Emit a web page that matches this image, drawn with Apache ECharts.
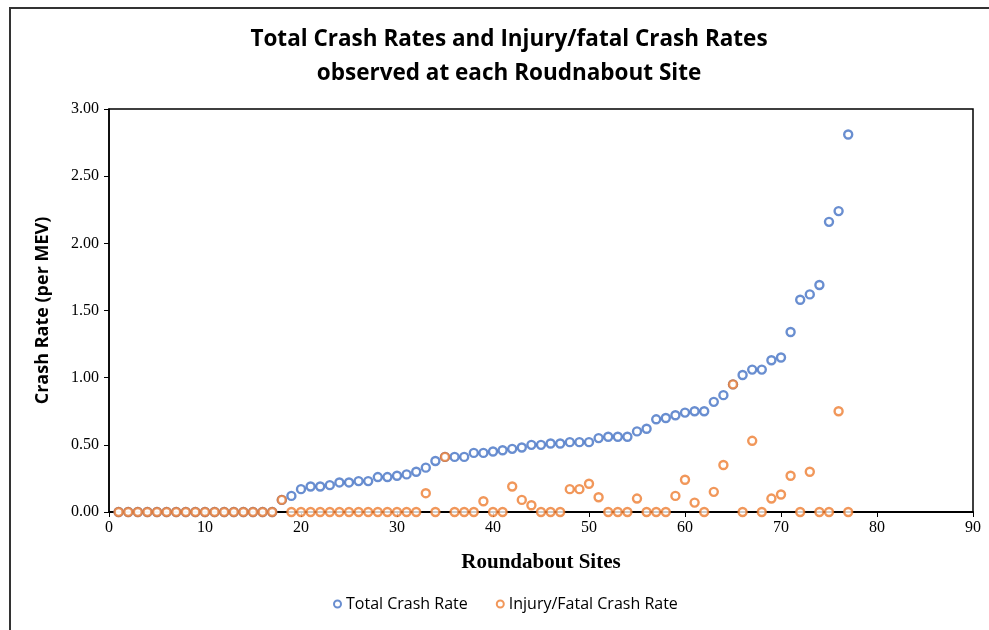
<!DOCTYPE html>
<html>
<head>
<meta charset="utf-8">
<script src="https://cdn.jsdelivr.net/npm/echarts@6/dist/echarts.min.js"></script>
<style>
body { margin: 0; background: #fff; }
#frame { position: absolute; left: 9px; top: 7px; width: 1000px; height: 650px; border: 2px solid #333; }
#chart { position: absolute; left: 0; top: 0; width: 989px; height: 630px; }
</style>
</head>
<body>
<div id="frame"></div>
<div id="chart"></div>
<script>
// site numbers 1..77
var sites = [1, 2, 3, 4, 5, 6, 7, 8, 9, 10, 11, 12, 13, 14, 15, 16, 17, 18, 19, 20,
    21, 22, 23, 24, 25, 26, 27, 28, 29, 30, 31, 32, 33, 34, 35, 36, 37, 38, 39, 40,
    41, 42, 43, 44, 45, 46, 47, 48, 49, 50, 51, 52, 53, 54, 55, 56, 57, 58, 59, 60,
    61, 62, 63, 64, 65, 66, 67, 68, 69, 70, 71, 72, 73, 74, 75, 76, 77];

var totalRate = [0, 0, 0, 0, 0, 0, 0, 0, 0, 0, 0, 0, 0, 0, 0, 0, 0, 0.09, 0.12, 0.17,
    0.19, 0.19, 0.20, 0.22, 0.22, 0.23, 0.23, 0.26, 0.26, 0.27, 0.28, 0.30, 0.33, 0.38, 0.41, 0.41, 0.41, 0.44, 0.44, 0.45,
    0.46, 0.47, 0.48, 0.50, 0.50, 0.51, 0.51, 0.52, 0.52, 0.52, 0.55, 0.56, 0.56, 0.56, 0.60, 0.62, 0.69, 0.70, 0.72, 0.74,
    0.75, 0.75, 0.82, 0.87, 0.95, 1.02, 1.06, 1.06, 1.13, 1.15, 1.34, 1.58, 1.62, 1.69, 2.16, 2.24, 2.81];

var injuryRate = [0, 0, 0, 0, 0, 0, 0, 0, 0, 0, 0, 0, 0, 0, 0, 0, 0, 0.09, 0, 0,
    0, 0, 0, 0, 0, 0, 0, 0, 0, 0, 0, 0, 0.14, 0, 0.41, 0, 0, 0, 0.08, 0,
    0, 0.19, 0.09, 0.05, 0, 0, 0, 0.17, 0.17, 0.21, 0.11, 0, 0, 0, 0.10, 0, 0, 0, 0.12, 0.24,
    0.07, 0, 0.15, 0.35, 0.95, 0, 0.53, 0, 0.10, 0.13, 0.27, 0, 0.30, 0, 0, 0.75, 0];

var yTicks = ['0.00', '0.50', '1.00', '1.50', '2.00', '2.50', '3.00'];

function pairs(vals) {
    var out = [];
    for (var i = 0; i < sites.length; i++) out.push([sites[i], vals[i]]);
    return out;
}

var myChart = echarts.init(document.getElementById('chart'));
var option = {
    animation: false,
    title: {
        text: 'Total Crash Rates and Injury/fatal Crash Rates\nobserved at each Roudnabout Site',
        left: 504,
        textAlign: 'center',
        top: 18,
        textStyle: {
            fontFamily: 'Open Sans',
            fontWeight: 'bold',
            fontSize: 22.5,
            lineHeight: 34,
            color: '#000'
        }
    },
    legend: {
        bottom: 13,
        left: 328,
        itemGap: 28,
        itemWidth: 7,
        itemHeight: 7,
        textStyle: { fontFamily: 'Open Sans', fontSize: 16, color: '#000' },
        data: ['Total Crash Rate', 'Injury/Fatal Crash Rate']
    },
    grid: {
        left: 109,
        right: 16,
        top: 109,
        bottom: 118,
        show: true,
        borderColor: '#000',
        borderWidth: 1.5
    },
    xAxis: {
        type: 'value',
        min: 0,
        max: 90,
        interval: 10,
        name: 'Roundabout Sites',
        nameLocation: 'middle',
        nameGap: 40,
        nameTextStyle: { fontFamily: 'Liberation Serif', fontWeight: 'bold', fontSize: 21, color: '#000' },
        axisLine: { lineStyle: { color: '#000', width: 2 } },
        axisTick: { show: true, length: 5, lineStyle: { color: '#000' } },
        axisLabel: { fontFamily: 'Liberation Serif', fontSize: 16, color: '#000', margin: 8 },
        splitLine: { show: false }
    },
    yAxis: {
        type: 'value',
        min: 0,
        max: 3,
        interval: 0.5,
        name: 'Crash Rate (per MEV)',
        nameLocation: 'middle',
        nameGap: 57,
        nameTextStyle: { fontFamily: 'Open Sans', fontWeight: 'bold', fontSize: 18, color: '#000' },
        axisLine: { show: true, lineStyle: { color: '#000', width: 1.5 } },
        axisTick: { show: true, length: 5, lineStyle: { color: '#000' } },
        axisLabel: {
            fontFamily: 'Liberation Serif', fontSize: 16, color: '#000', margin: 10,
            formatter: function (v) { return yTicks[Math.round(v / 0.5)]; }
        },
        splitLine: { show: false }
    },
    series: [
        {
            name: 'Total Crash Rate',
            type: 'scatter',
            symbol: 'circle',
            symbolSize: 8,
            itemStyle: { color: '#fff', borderColor: '#4472C4', borderWidth: 2.4 },
            data: pairs(totalRate)
        },
        {
            name: 'Injury/Fatal Crash Rate',
            type: 'scatter',
            symbol: 'circle',
            symbolSize: 8,
            itemStyle: { color: '#fff', borderColor: '#ED7D31', borderWidth: 2.4 },
            data: pairs(injuryRate)
        }
    ]
};
myChart.setOption(option);
</script>
</body>
</html>
